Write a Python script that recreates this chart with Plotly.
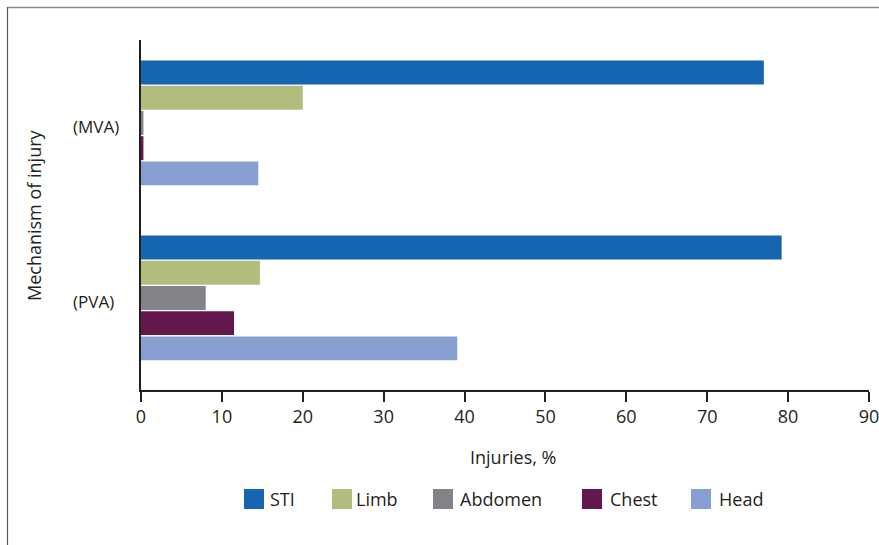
import plotly.graph_objects as go

categories = ["(MVA)", "(PVA)"]
series_names = ["STI", "Limb", "Abdomen", "Chest", "Head"]
sti = [77.0, 79.2]
limb = [20.0, 14.7]
abdomen = [0.3, 8.0]
chest = [0.3, 11.5]
head = [14.5, 39.1]
x_ticks = [0, 10, 20, 30, 40, 50, 60, 70, 80, 90]

values = [sti, limb, abdomen, chest, head]
colors = ["#1565b0", "#b1bc7d", "#838387", "#63174d", "#889fd1"]

W, H = 879, 545
L, R, T, B = 141, 10, 40, 155
PW, PH = W - L - R, H - T - B

def px_x(p):
    return (p - L) / PW

def px_y(p):
    return (H - B - p) / PH

FONT = "Open Sans"
TXT = "#231f20"
FS = 18

fig = go.Figure()
for name, vals, col in zip(series_names, values, colors):
    fig.add_trace(go.Bar(
        y=categories, x=vals, name=name, orientation="h",
        marker=dict(color=col, line=dict(width=0)),
        showlegend=False,
    ))

annotations = []
shapes = []

# category labels (left aligned)
for c in categories:
    annotations.append(dict(
        x=px_x(71), xref="paper", y=c, yref="y", text=c, showarrow=False,
        xanchor="left", yanchor="middle", yshift=-4,
        font=dict(family=FONT, size=17, color=TXT),
    ))

# axis titles
annotations.append(dict(
    x=px_x(34), xref="paper", y=0.5, yref="paper", text="Mechanism of injury",
    showarrow=False, textangle=-90, xanchor="center", yanchor="middle",
    font=dict(family=FONT, size=FS, color=TXT),
))
annotations.append(dict(
    x=px_x(513), xref="paper", y=px_y(457), yref="paper", text="Injuries, %",
    showarrow=False, xanchor="center", yanchor="middle",
    font=dict(family=FONT, size=FS, color=TXT),
))

# manual legend
sq_left = [244, 332, 433, 582, 691]
txt_left = [268, 354, 458, 608, 717]
for name, col, sx, tx in zip(series_names, colors, sq_left, txt_left):
    shapes.append(dict(
        type="rect", xref="paper", yref="paper",
        x0=px_x(sx), x1=px_x(sx + 20), y0=px_y(509), y1=px_y(489),
        fillcolor=col, line=dict(width=0),
    ))
    annotations.append(dict(
        x=px_x(tx), xref="paper", y=px_y(499), yref="paper", text=name,
        showarrow=False, xanchor="left", yanchor="middle",
        font=dict(family=FONT, size=FS, color=TXT),
    ))

# outer frame (top and left edges)
shapes.append(dict(type="line", xref="paper", yref="paper",
                   x0=px_x(7), x1=px_x(900), y0=px_y(7.5), y1=px_y(7.5),
                   line=dict(color="#8a8a8a", width=1.5)))
shapes.append(dict(type="line", xref="paper", yref="paper",
                   x0=px_x(7.5), x1=px_x(7.5), y0=px_y(7), y1=px_y(560),
                   line=dict(color="#555555", width=1.2)))

fig.update_layout(
    width=W, height=H,
    margin=dict(l=L, r=R, t=T, b=B, pad=0, autoexpand=False),
    paper_bgcolor="white", plot_bgcolor="white",
    barmode="group", bargap=0.28, bargroupgap=0.05,
    showlegend=False,
    annotations=annotations, shapes=shapes,
    xaxis=dict(
        range=[0, 90], tickvals=x_ticks, ticktext=[str(v) for v in x_ticks],
        showgrid=False, zeroline=False,
        showline=True, linecolor=TXT, linewidth=1.5,
        ticks="outside", ticklen=10, tickwidth=1.5, tickcolor=TXT,
        tickfont=dict(family=FONT, size=FS, color=TXT),
        ticklabeloverflow="allow", automargin=False,
        fixedrange=True,
    ),
    yaxis=dict(
        type="category", categoryorder="array", categoryarray=categories,
        range=[1.526, -0.474],
        showgrid=False, zeroline=False, showticklabels=False,
        showline=True, linecolor=TXT, linewidth=1.5, ticks="",
        automargin=False,
        fixedrange=True,
    ),
)

fig.write_html(
    "out.html",
    config={"displayModeBar": False},
    post_script="document.body.style.margin='0';document.body.style.overflow='hidden';",
)
